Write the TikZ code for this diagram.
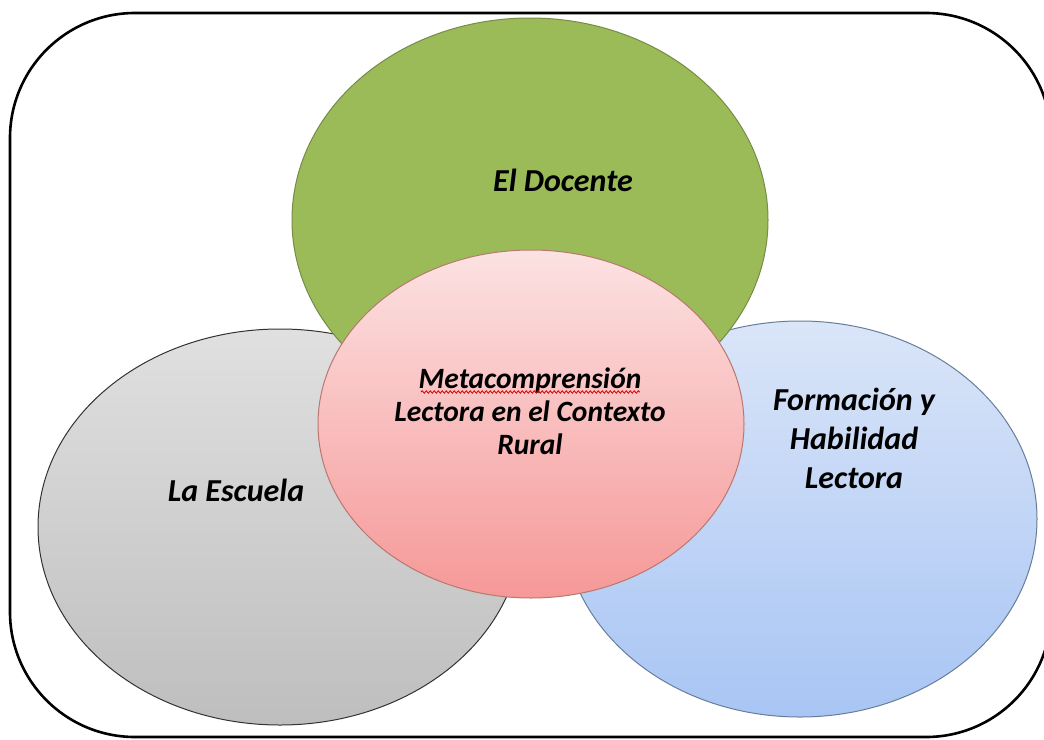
\documentclass[tikz,border=0pt]{standalone}
\usepackage{fontspec}
\setmainfont{Carlito}
\usetikzlibrary{decorations.pathmorphing}
\definecolor{verde}{RGB}{155,187,89}
\definecolor{verdeborde}{RGB}{118,140,70}
\definecolor{grisarriba}{RGB}{224,224,224}
\definecolor{grisabajo}{RGB}{190,190,190}
\definecolor{azularriba}{RGB}{218,229,248}
\definecolor{azulabajo}{RGB}{168,197,244}
\definecolor{azulborde}{RGB}{105,125,155}
\definecolor{rosaarriba}{RGB}{252,226,226}
\definecolor{rosaabajo}{RGB}{246,152,152}
\definecolor{rosaborde}{RGB}{185,120,110}
\tikzset{
  etiqueta/.style={font=\fontsize{32}{39}\selectfont\bfseries\itshape, align=center},
  centro/.style={font=\fontsize{29.5}{33}\selectfont\bfseries\itshape, align=center}
}
\begin{document}
\begin{tikzpicture}[x=1pt,y=-1pt]
            \useasboundingbox (0,0) rectangle (1044,739);
            \fill[white] (0,0) rectangle (1044,739);
            \draw[line width=2.6pt, rounded corners=125pt] (10,13) rectangle (1051,737);
            \draw[line width=1pt, draw=black!80, top color=grisarriba, bottom color=grisabajo] (280,527) ellipse [x radius=242, y radius=198];
            \draw[line width=1pt, draw=azulborde, top color=azularriba, bottom color=azulabajo] (800,519) ellipse [x radius=237, y radius=198];
            \draw[line width=1pt, draw=verdeborde, fill=verde] (530,220) ellipse [x radius=238, y radius=202];
            \draw[line width=1pt, draw=rosaborde, top color=rosaarriba, bottom color=rosaabajo] (531,424) ellipse [x radius=213, y radius=174];
            \node[etiqueta] (docente) at (563,180) {El Docente};
            \node[etiqueta] (escuela) at (236,490) {La Escuela};
            \node[etiqueta] (formacion) at (854,438) {Formación y\\Habilidad\\Lectora};
            \node[centro] (meta) at (530,411) {Metacomprensión\\Lectora en el Contexto\\Rural};
            \draw[red!80!black, line width=0.8pt, decorate, decoration={snake, amplitude=1.2pt, segment length=4pt}] (421,392) -- (640,392);
        \end{tikzpicture}
\end{document}
